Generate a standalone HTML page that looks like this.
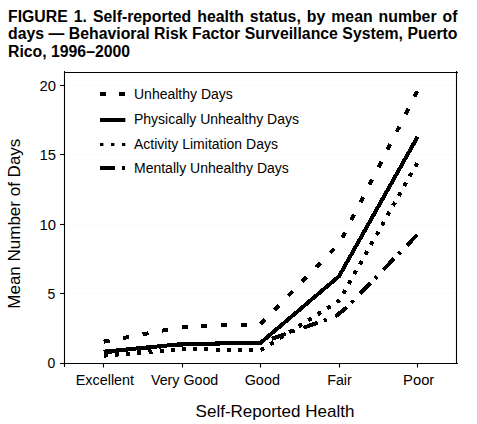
<!DOCTYPE html>
<html><head><meta charset="utf-8"><style>
html,body{margin:0;padding:0;background:#fff;width:477px;height:424px;overflow:hidden}
.title{position:absolute;left:8px;width:449.5px;font-family:"Liberation Sans",sans-serif;font-weight:bold;font-size:15.8px;color:#000;white-space:nowrap}
.j{text-align:justify;text-align-last:justify}
svg{position:absolute;left:0;top:0}
.t14{font-family:"Liberation Sans",sans-serif;font-size:14px;fill:#000}
.t17{font-family:"Liberation Sans",sans-serif;font-size:17px;fill:#000}
</style></head><body>
<div class="title j" style="top:8.2px;line-height:17px">FIGURE 1. Self-reported health status, by mean number of</div>
<div class="title j" style="top:24.9px;line-height:17px">days — Behavioral Risk Factor Surveillance System, Puerto</div>
<div class="title" style="top:43.2px;line-height:17px">Rico, 1996–2000</div>
<svg width="477" height="424" viewBox="0 0 477 424">
<line x1="65" y1="85.5" x2="456" y2="85.5" stroke="#fbfbfb" stroke-width="1"/>
<line x1="65" y1="154.5" x2="456" y2="154.5" stroke="#fbfbfb" stroke-width="1"/>
<line x1="65" y1="224.5" x2="456" y2="224.5" stroke="#fbfbfb" stroke-width="1"/>
<line x1="65" y1="293.5" x2="456" y2="293.5" stroke="#fbfbfb" stroke-width="1"/>
<path d="M64.5,71 V367 M60,363.5 H458 M64.5,72.5 H458 M456.5,71 V363.5" stroke="#000" stroke-width="1.1" fill="none"/>
<line x1="60" y1="363.5" x2="64.5" y2="363.5" stroke="#000" stroke-width="1.1"/>
<text x="55.2" y="367.90" text-anchor="end" class="t14">0</text>
<line x1="60" y1="293.5" x2="64.5" y2="293.5" stroke="#000" stroke-width="1.1"/>
<text x="55.2" y="298.80" text-anchor="end" class="t14">5</text>
<line x1="60" y1="224.5" x2="64.5" y2="224.5" stroke="#000" stroke-width="1.1"/>
<text x="56.1" y="229.80" text-anchor="end" class="t14" textLength="16.5" lengthAdjust="spacingAndGlyphs">10</text>
<line x1="60" y1="154.5" x2="64.5" y2="154.5" stroke="#000" stroke-width="1.1"/>
<text x="56.1" y="159.80" text-anchor="end" class="t14" textLength="16.5" lengthAdjust="spacingAndGlyphs">15</text>
<line x1="60" y1="85.5" x2="64.5" y2="85.5" stroke="#000" stroke-width="1.1"/>
<text x="56.1" y="90.80" text-anchor="end" class="t14" textLength="16.5" lengthAdjust="spacingAndGlyphs">20</text>
<line x1="103.5" y1="363.5" x2="103.5" y2="367.5" stroke="#000" stroke-width="1.1"/>
<text x="104.90" y="385.3" text-anchor="middle" class="t14" textLength="58.3" lengthAdjust="spacingAndGlyphs">Excellent</text>
<line x1="182.5" y1="363.5" x2="182.5" y2="367.5" stroke="#000" stroke-width="1.1"/>
<text x="184.60" y="385.3" text-anchor="middle" class="t14" textLength="67.2" lengthAdjust="spacingAndGlyphs">Very Good</text>
<line x1="260.5" y1="363.5" x2="260.5" y2="367.5" stroke="#000" stroke-width="1.1"/>
<text x="262.30" y="385.3" text-anchor="middle" class="t14" textLength="35.3" lengthAdjust="spacingAndGlyphs">Good</text>
<line x1="339.5" y1="363.5" x2="339.5" y2="367.5" stroke="#000" stroke-width="1.1"/>
<text x="339.50" y="385.3" text-anchor="middle" class="t14" textLength="24.6" lengthAdjust="spacingAndGlyphs">Fair</text>
<line x1="417.5" y1="363.5" x2="417.5" y2="367.5" stroke="#000" stroke-width="1.1"/>
<text x="418.70" y="385.3" text-anchor="middle" class="t14" textLength="31.2" lengthAdjust="spacingAndGlyphs">Poor</text>
<path d="M103.70,341.68L109.60,340.57 M123.18,338.02L129.08,336.91 M142.66,334.36L148.56,333.25 M162.14,330.70L168.04,329.59 M181.62,327.04L187.60,326.74 M201.42,326.23L207.41,326.00 M221.22,325.49L227.22,325.27 M241.03,324.75L247.02,324.53 M260.76,323.86L264.96,319.57 M274.64,309.70L278.83,305.41 M288.51,295.54L292.71,291.26 M302.38,281.39L306.58,277.10 M316.25,267.23L320.45,262.94 M330.12,253.07L334.32,248.79 M342.27,237.68L345.01,232.34 M351.32,220.04L354.06,214.70 M360.37,202.41L363.11,197.07 M369.42,184.77L372.16,179.44 M378.47,167.14L381.20,161.80 M387.51,149.51L390.25,144.17 M396.56,131.87L399.30,126.53 M405.61,114.24L408.35,108.90 M414.66,96.60L417.40,91.26" fill="none" stroke="#000" stroke-width="4.0" stroke-linecap="butt" shape-rendering="crispEdges"/>
<polyline points="103.70,351.69 182.15,344.04 260.60,342.79 339.05,276.21 417.50,136.93" fill="none" stroke="#000" stroke-width="4.0" stroke-linejoin="miter" shape-rendering="crispEdges"/>
<path d="M103.70,355.72L107.69,355.38 M114.89,354.76L118.88,354.43 M126.08,353.81L130.06,353.47 M137.27,352.86L141.25,352.52 M148.46,351.91L152.44,351.57 M159.65,350.96L163.63,350.62 M170.84,350.01L174.82,349.67 M182.03,349.05L186.03,349.11 M193.26,349.22L197.25,349.28 M204.48,349.40L208.48,349.46 M215.71,349.58L219.71,349.64 M226.94,349.76L230.94,349.82 M238.17,349.94L242.17,350.00 M249.40,350.12L253.40,350.18 M260.62,350.28L264.01,348.15 M270.13,344.30L273.51,342.17 M279.63,338.32L283.02,336.19 M289.14,332.34L292.53,330.21 M298.65,326.36L302.03,324.23 M308.15,320.38L311.54,318.25 M317.66,314.41L321.04,312.28 M327.16,308.43L330.55,306.30 M336.67,302.45L339.64,299.92 M343.20,293.63L345.18,290.15 M348.74,283.86L350.72,280.38 M354.28,274.09L356.26,270.61 M359.83,264.32L361.80,260.84 M365.37,254.56L367.34,251.08 M370.91,244.79L372.88,241.31 M376.45,235.02L378.42,231.54 M381.99,225.25L383.96,221.77 M387.53,215.48L389.50,212.00 M393.07,205.72L395.04,202.24 M398.61,195.95L400.58,192.47 M404.15,186.18L406.12,182.70 M409.69,176.41L411.66,172.93 M415.23,166.64L417.21,163.16" fill="none" stroke="#000" stroke-width="4.0" stroke-linecap="butt" shape-rendering="crispEdges"/>
<path d="M103.70,352.38L118.62,350.85 M125.09,350.18L128.07,349.88 M137.32,348.92L152.24,347.39 M158.71,346.73L161.69,346.42 M170.95,345.47L185.89,344.24 M192.38,344.10L195.38,344.04 M204.68,343.84L219.68,343.52 M226.18,343.38L229.18,343.32 M238.47,343.12L253.47,342.80 M259.97,342.66L262.84,341.87 M271.62,338.80L285.78,333.86 M291.92,331.72L294.75,330.73 M303.53,327.67L317.69,322.72 M323.83,320.58L326.66,319.59 M335.44,316.53L346.84,307.25 M351.37,302.59L353.46,300.44 M359.94,293.76L370.39,283.01 M374.92,278.34L377.01,276.19 M383.49,269.52L393.94,258.76 M398.47,254.10L400.56,251.95 M407.04,245.28L417.49,234.52" fill="none" stroke="#000" stroke-width="4.0" stroke-linecap="butt" shape-rendering="crispEdges"/>
<line x1="100" y1="94" x2="125.3" y2="94" stroke="#000" stroke-width="4" stroke-dasharray="6 13"/>
<text x="134" y="99.3" class="t14">Unhealthy Days</text>
<line x1="100" y1="120" x2="125.3" y2="120" stroke="#000" stroke-width="4"/>
<text x="134" y="124" class="t14">Physically Unhealthy Days</text>
<line x1="100" y1="144.5" x2="125.3" y2="144.5" stroke="#000" stroke-width="3" stroke-dasharray="3.4 7.6"/>
<text x="134" y="148.6" class="t14">Activity Limitation Days</text>
<line x1="100" y1="168" x2="125.3" y2="168" stroke="#000" stroke-width="4" stroke-dasharray="15 7 3 7"/>
<text x="134" y="173.2" class="t14">Mentally Unhealthy Days</text>
<text x="275" y="416.7" text-anchor="middle" class="t17">Self-Reported Health</text>
<text transform="translate(19.8,223.7) rotate(-90)" text-anchor="middle" class="t17">Mean Number of Days</text>
</svg>
</body></html>
